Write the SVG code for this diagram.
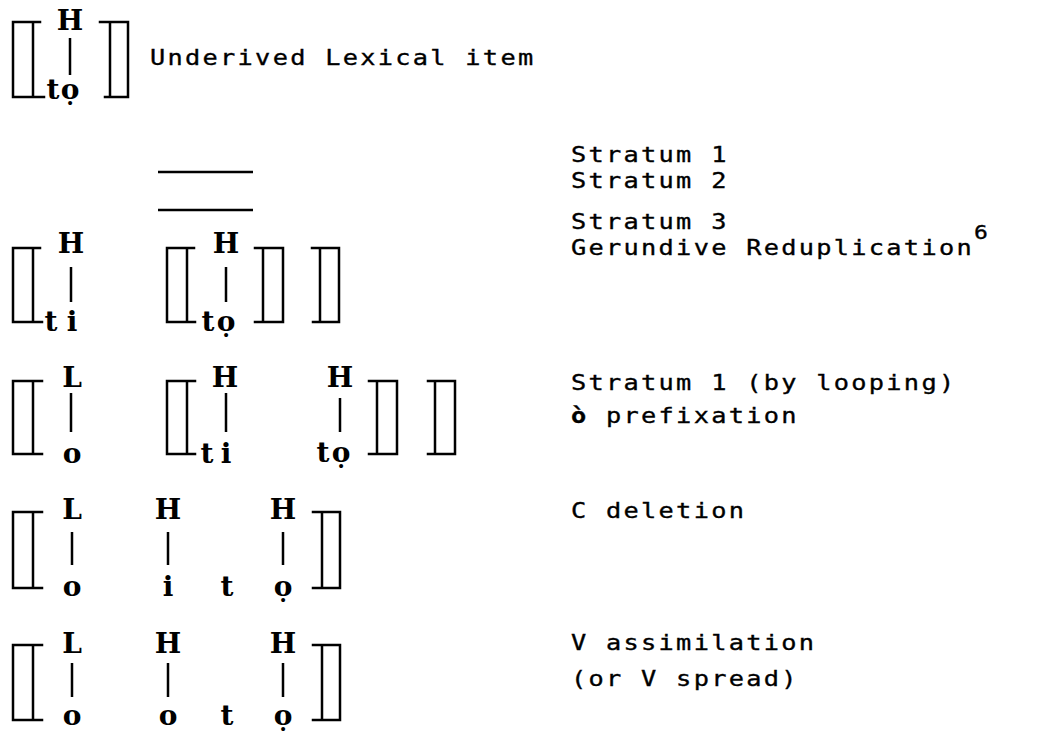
<svg xmlns="http://www.w3.org/2000/svg" width="1047" height="733" viewBox="0 0 1047 733">
<style>
.br{fill:none;stroke:#000;stroke-width:2.5;stroke-linecap:square}
.as{stroke:#000;stroke-width:2.5}
.seg{font-family:"DejaVu Serif","Liberation Serif",serif;font-weight:bold;font-size:28px;fill:#000;text-anchor:middle}
.lab{font-family:"DejaVu Sans Mono","Liberation Mono",monospace;font-size:22px;letter-spacing:2px;fill:#000;stroke:#000;stroke-width:0.35}
</style>
<rect width="1047" height="733" fill="#fff"/>

<!-- Row 1: underived -->
<g id="row1">
<path class="br" d="M40,22H13V97H44M33,22V97"/>
<path class="br" d="M100,22H128V97H105M110,22V97"/>
<text class="seg" x="70" y="30">H</text>
<text class="seg" x="53 70" y="99">tọ</text>
</g>
<g id="label-underived" transform="translate(150,0) scale(1.15,1)"><text class="lab" x="0" y="65">Underived Lexical item</text></g>

<!-- Strata 1,2 -->
<g id="strata-lines">
<path class="as" d="M158,172H253M158,210H253"/>
</g>
<g id="label-strata" transform="translate(571,0) scale(1.15,1)"><text class="lab" x="0" y="162">Stratum 1</text><text class="lab" x="0" y="188">Stratum 2</text></g>

<!-- Row 3 -->
<g id="row3">
<path class="br" d="M40,248H13V322H42M33,248V322"/>
<path class="br" d="M194,248H167V322H195M187,248V322"/>
<path class="br" d="M255,248H283V322H255M263,248V322"/>
<path class="br" d="M312,248H339V322H313M320,248V322"/>
<text class="seg" x="71" y="253">H</text>
<text class="seg" x="51 72" y="331">ti</text>
<text class="seg" x="226" y="253">H</text>
<text class="seg" x="208 226" y="331">tọ</text>
</g>
<g id="label-row3" transform="translate(571,0) scale(1.15,1)"><text class="lab" x="0" y="229">Stratum 3</text><text class="lab" x="0" y="255">Gerundive Reduplication<tspan dy="-16" font-size="20" letter-spacing="0">6</tspan></text></g>

<!-- Row 4 -->
<g id="row4">
<path class="br" d="M42,381H13V454H42M33,381V454"/>
<path class="br" d="M195,381H167V454H195M187,381V454"/>
<path class="br" d="M369,381H397V454H369M377,381V454"/>
<path class="br" d="M428,381H455V454H428M435,381V454"/>
<text class="seg" x="72" y="387">L</text>
<text class="seg" x="72" y="463">o</text>
<text class="seg" x="225" y="387">H</text>
<text class="seg" x="207 226" y="463">ti</text>
<text class="seg" x="340" y="387">H</text>
<text class="seg" x="323 341" y="462">tọ</text>
</g>
<g id="label-row4" transform="translate(571,0) scale(1.15,1)"><text class="lab" x="0" y="390">Stratum 1 (by looping)</text><text class="lab" x="0" y="423"><tspan font-weight="bold">ò</tspan> prefixation</text></g>

<!-- Row 5 -->
<g id="row5">
<path class="br" d="M42,512H13V588H42M33,512V588"/>
<path class="br" d="M313,512H340V588H313M322,512V588"/>
<text class="seg" x="72" y="519">L</text>
<text class="seg" x="168" y="519">H</text>
<text class="seg" x="283" y="519">H</text>
<text class="seg" x="72" y="596">o</text>
<text class="seg" x="168" y="596">i</text>
<text class="seg" x="227" y="596">t</text>
<text class="seg" x="283" y="596">ọ</text>
</g>
<g id="label-row5" transform="translate(571,0) scale(1.15,1)"><text class="lab" x="0" y="518">C deletion</text></g>

<!-- Row 6 -->
<g id="row6">
<path class="br" d="M42,645H13V720H42M33,645V720"/>
<path class="br" d="M313,645H340V720H313M322,645V720"/>
<text class="seg" x="72" y="653">L</text>
<text class="seg" x="168" y="653">H</text>
<text class="seg" x="283" y="653">H</text>
<text class="seg" x="72" y="725">o</text>
<text class="seg" x="168" y="725">o</text>
<text class="seg" x="227" y="725">t</text>
<text class="seg" x="283" y="725">ọ</text>
</g>
<g id="label-row6" transform="translate(571,0) scale(1.15,1)"><text class="lab" x="0" y="650">V assimilation</text><text class="lab" x="0" y="686">(or V spread)</text></g>

<!-- association lines -->
<g id="connectors">
<path class="as" d="M70,38V75M71,267V302M226,267V302M71,393V432M226,393V432M340,398V432M72,532V565M168,532V565M283,532V565M72,663V697M168,663V697M283,663V697"/>
</g>
</svg>
